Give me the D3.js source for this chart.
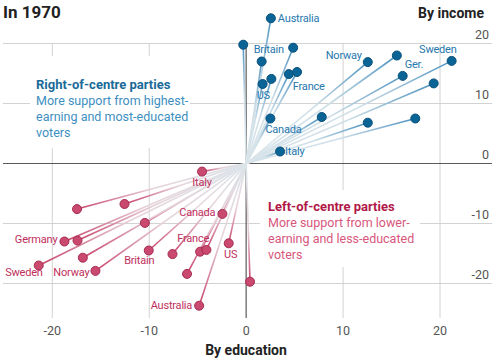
<!DOCTYPE html>
<html><head><meta charset="utf-8">
<script src="https://cdn.jsdelivr.net/npm/d3@7"></script>
<style>
body{margin:0;background:#fff;}
svg{display:block;font-family:Roboto,"Noto Sans",sans-serif;}
</style></head><body>
<svg id="c" width="492" height="364"></svg>
<script>
// ---- data ----
const xTicks = [-20, -10, 0, 10, 20];
const yTicks = [20, 10, 0, -10, -20];

// Right-of-centre parties (blue)
const rightEdu    = [2.55, -0.3, 1.6, 4.85, 1.7, 2.6, 4.4, 5.25, 12.55, 15.55, 16.15, 21.2, 19.35, 12.55, 17.45, 2.5, 7.8, 3.5];
const rightIncome = [24.2, 19.8, 17.0, 19.3, 13.25, 14.1, 14.9, 15.25, 16.9, 18.0, 14.6, 17.1, 13.35, 6.8, 7.5, 7.5, 7.75, 2.0];
const rightLabel  = ["Australia", "", "Britain", "", "US", "", "France", "", "Norway", "", "Ger.", "Sweden", "", "", "", "Canada", "", "Italy"];

// Left-of-centre parties (red)
const leftEdu    = [-4.55, -12.55, -10.45, -2.45, -1.8, -4.75, -4.1, -10.05, -7.6, -6.1, 0.4, -4.85, -17.45, -18.75, -17.4, -21.4, -16.85, -15.55];
const leftIncome = [-1.35, -6.75, -9.9, -8.4, -13.3, -14.7, -14.4, -14.5, -15.1, -18.4, -19.7, -23.7, -7.6, -13.0, -12.85, -17.0, -15.7, -17.9];
const leftLabel  = ["Italy", "", "", "Canada", "US", "France", "", "Britain", "", "", "", "Australia", "", "Germany", "", "Sweden", "", "Norway"];

// label placement (offsets from dot, px)
const rightLabelPos = {
  "Australia": [7, 4, "start"], "Britain": [-8, -9, "start"], "US": [-6, 15, "start"],
  "France": [4, 16, "start"], "Norway": [-6, -3, "end"], "Ger.": [2, -8, "start"],
  "Sweden": [5, -8, "end"], "Canada": [-5, 14, "start"], "Italy": [5, 3, "start"]
};
const leftLabelPos = {
  "Italy": [0, 14, "middle"], "Canada": [-7, 2, "end"], "France": [9, -10, "end"],
  "US": [2, 15, "middle"], "Britain": [-9.5, 13, "middle"], "Australia": [-7, 3, "end"],
  "Germany": [-7, 1.5, "end"], "Sweden": [4, 10, "end"], "Norway": [-6, 5, "end"]
};

// ---- chart ----
const svg = d3.select("#c");
const x = d3.scaleLinear().domain([-20, 20]).range([52.3, 440]);
const y = d3.scaleLinear().domain([-25.75, 20]).range([318, 43.5]);
const gridCol = "#d2d2d2";

// horizontal gridlines
svg.append("g").selectAll("line").data(yTicks.filter(d => d !== 0)).join("line")
  .attr("x1", 3).attr("x2", 492).attr("y1", d => y(d)).attr("y2", d => y(d))
  .attr("stroke", gridCol).attr("stroke-width", 1);
// vertical gridlines
svg.append("g").selectAll("line").data(xTicks.filter(d => d !== 0)).join("line")
  .attr("x1", d => x(d)).attr("x2", d => x(d)).attr("y1", y(20)).attr("y2", 318)
  .attr("stroke", gridCol).attr("stroke-width", 1);

// white backgrounds behind annotations
svg.append("rect").attr("x", 30).attr("y", 56).attr("width", 160).attr("height", 92).attr("fill", "#fff");
svg.append("rect").attr("x", 260).attr("y", 190).attr("width", 160).attr("height", 77).attr("fill", "#fff");

// zero axes
svg.append("line").attr("x1", 3).attr("x2", 492).attr("y1", y(0)).attr("y2", y(0))
  .attr("stroke", "#5a5a5a").attr("stroke-width", 1.2);
svg.append("line").attr("x1", x(0)).attr("x2", x(0)).attr("y1", y(20)).attr("y2", 318)
  .attr("stroke", "#5a5a5a").attr("stroke-width", 1.2);

// tick labels
svg.append("g").selectAll("text").data(yTicks).join("text")
  .attr("x", 489).attr("y", d => y(d) - 5).attr("text-anchor", "end")
  .attr("font-size", 12.5).attr("fill", "#555").text(d => d);
svg.append("g").selectAll("text").data(xTicks).join("text")
  .attr("x", d => x(d)).attr("y", 335).attr("text-anchor", "middle")
  .attr("font-size", 12.5).attr("fill", "#555").text(d => d);

// titles
svg.append("text").attr("x", 3).attr("y", 18).attr("font-size", 17).attr("font-weight", 700)
  .attr("fill", "#222").text("In 1970");
svg.append("text").attr("x", 484).attr("y", 18).attr("text-anchor", "end").attr("font-size", 14)
  .attr("font-weight", 700).attr("fill", "#222").text("By income");
svg.append("text").attr("x", 246).attr("y", 355).attr("text-anchor", "middle").attr("font-size", 14)
  .attr("font-weight", 700).attr("fill", "#222").text("By education");

// gradients & lines
const defs = svg.append("defs");
function drawSeries(ex, ey, labels, pos, cFar, cNear, dotFill, dotStroke, txtCol, key) {
  const data = ex.map((d, i) => ({ e: d, inc: ey[i], label: labels[i] }));
  data.forEach((d, i) => {
    const g = defs.append("linearGradient").attr("id", key + i)
      .attr("gradientUnits", "userSpaceOnUse")
      .attr("x1", x(0)).attr("y1", y(0)).attr("x2", x(d.e)).attr("y2", y(d.inc));
    g.append("stop").attr("offset", "0%").attr("stop-color", "#dbe5ea");
    g.append("stop").attr("offset", "55%").attr("stop-color", cFar);
    g.append("stop").attr("offset", "100%").attr("stop-color", cNear);
  });
  const gl = svg.append("g");
  gl.selectAll("line").data(data).join("line")
    .attr("x1", x(0)).attr("y1", y(0))
    .attr("x2", d => x(d.e)).attr("y2", d => y(d.inc))
    .attr("stroke", (d, i) => `url(#${key}${i})`).attr("stroke-width", 1.6);
  gl.selectAll("circle").data(data).join("circle")
    .attr("cx", d => x(d.e)).attr("cy", d => y(d.inc)).attr("r", 4.5)
    .attr("fill", dotFill).attr("stroke", dotStroke).attr("stroke-width", 1);
  gl.selectAll("text").data(data.filter(d => d.label)).join("text")
    .attr("x", d => x(d.e) + pos[d.label][0]).attr("y", d => y(d.inc) + pos[d.label][1])
    .attr("text-anchor", d => pos[d.label][2])
    .attr("font-size", 11).attr("fill", txtCol).attr("letter-spacing", -0.2)
    .text(d => d.label);
}
drawSeries(rightEdu, rightIncome, rightLabel, rightLabelPos, "#cfdfe8", "#4d92bf", "#0b6496", "#08507a", "#2677ad", "b");
drawSeries(leftEdu, leftIncome, leftLabel, leftLabelPos, "#e6d3da", "#c8426a", "#c9496f", "#a52a52", "#c02f5c", "r");

// annotations
const a1 = svg.append("text").attr("x", 36).attr("y", 89).attr("font-size", 13);
a1.append("tspan").attr("x", 36).attr("font-weight", 700).attr("fill", "#1a6a99").text("Right-of-centre parties");
["More support from highest-", "earning and most-educated", "voters"].forEach((t, i) =>
  a1.append("tspan").attr("x", 36).attr("dy", 16).attr("font-size", 12.5).attr("fill", "#3d8fc2").text(t));
const a2 = svg.append("text").attr("x", 268).attr("y", 211).attr("font-size", 13);
a2.append("tspan").attr("x", 268).attr("font-weight", 700).attr("fill", "#b01848").text("Left-of-centre parties");
["More support from lower-", "earning and less-educated", "voters"].forEach((t, i) =>
  a2.append("tspan").attr("x", 268).attr("dy", 16).attr("font-size", 12.5).attr("fill", "#d7577d").text(t));
</script>
</body></html>
